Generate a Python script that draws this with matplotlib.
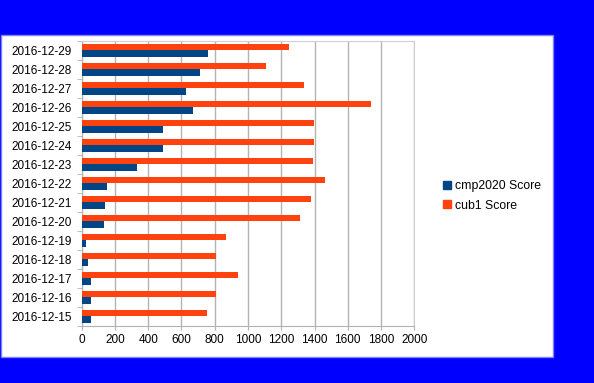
import matplotlib
matplotlib.use("Agg")
import matplotlib.pyplot as plt
from matplotlib.patches import Patch, Rectangle

dates = ["2016-12-15", "2016-12-16", "2016-12-17", "2016-12-18", "2016-12-19",
         "2016-12-20", "2016-12-21", "2016-12-22", "2016-12-23", "2016-12-24",
         "2016-12-25", "2016-12-26", "2016-12-27", "2016-12-28", "2016-12-29"]
cmp2020 = [56, 56, 56, 38, 24, 134, 140, 152, 331, 491, 491, 667, 625, 711, 761]
cub1 = [755, 808, 942, 808, 866, 1315, 1379, 1461, 1389, 1399, 1399, 1738, 1339, 1110, 1245]
xticks = list(range(0, 2001, 200))

plt.rcParams['font.family'] = ['Liberation Sans', 'DejaVu Sans']

W, H = 594, 383
fig = plt.figure(figsize=(W / 100, H / 100), dpi=100, facecolor='#0000ff')

# white panel behind the chart
fig.patches.append(Rectangle((1 / W, (H - 357) / H), 552 / W, 322 / H,
                             transform=fig.transFigure, facecolor='white',
                             edgecolor='#8080ff', linewidth=1, zorder=-5))

ax = fig.add_axes([81.7 / W, (H - 326) / H, (414.3 - 81.7) / W, (326 - 40.7) / H])
ax.set_zorder(2)
ax.set_facecolor('white')

orange = '#ff420e'
blue = '#004586'
pos = list(range(len(dates)))
ax.barh([p + 1 / 6 for p in pos], cub1, height=1 / 3, color=orange, zorder=3)
ax.barh([p - 1 / 6 for p in pos], cmp2020, height=1 / 3, color=blue, zorder=3)

ax.set_xlim(0, 2000)
ax.set_ylim(-0.5, len(dates) - 0.5)
ax.set_xticks(xticks)
ax.set_xticklabels([str(v) for v in xticks], fontsize=8.5)
ax.set_yticks(pos)
ax.set_yticklabels(dates, fontsize=8.5)
ax.set_yticks([p + 0.5 for p in range(-1, len(dates))], minor=True)
ax.tick_params(axis='y', which='major', length=0, pad=7.2)
ax.tick_params(axis='y', which='minor', length=3.6, color='#b3b3b3', direction='out')
ax.tick_params(axis='x', length=3, color='#b3b3b3', pad=3)

ax.grid(axis='x', color='#b3b3b3', linewidth=1, zorder=0)
ax.set_axisbelow(True)
for s in ['top', 'right']:
    ax.spines[s].set_color('#d0d0d0')
for s in ['left', 'bottom']:
    ax.spines[s].set_color('#b3b3b3')

handles = [Patch(color=blue, label='cmp2020 Score'), Patch(color=orange, label='cub1 Score')]
fig.legend(handles=handles, loc='upper left', bbox_to_anchor=(443 / W, (H - 180) / H),
           frameon=False, fontsize=8.8, borderpad=0, borderaxespad=0,
           handlelength=0.65, handleheight=0.65, handletextpad=0.3, labelspacing=0.62)

fig.savefig('out.png', dpi=100, facecolor=fig.get_facecolor())
